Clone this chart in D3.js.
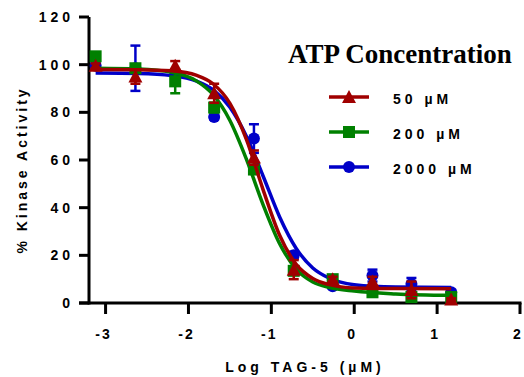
<!DOCTYPE html>
<html>
<head>
<meta charset="utf-8">
<script src="https://cdn.jsdelivr.net/npm/d3@7"></script>
<style>
  body { margin: 0; background: #fff; }
  text { font-family: Arial, "Liberation Sans", sans-serif; font-weight: bold; }
</style>
</head>
<body>
<div id="chart"></div>
<script>
// log concentration of TAG-5 (uM)
const logConc = [-3.12, -2.64, -2.16, -1.69, -1.21, -0.73, -0.26, 0.22, 0.69, 1.17]

const atp50 = [99.5, 95, 99.5, 88, 61, 14, 10, 9, 5.5, 1.5]
const atp50Err = [1, 3, 2, 4, 3, 4, 1, 2, 3.5, 0.5]
const atp200 = [103.5, 98.5, 93, 82, 56, 13.5, 10, 4.5, 2.5, 2.5]
const atp200Err = [1, 1, 5, 2, 1, 1, 1, 1, 2, 1]
const atp2000 = [99.5, 98.5, 96, 78, 69, 20, 7, 11.5, 8, 4.5]
const atp2000Err = [1, 9.5, 1, 1, 6, 1.5, 1, 2.5, 2.5, 1]

// fitted curves
const curveX = [-3.12, -2.6, -2.2, -1.9, -1.7, -1.5, -1.3, -1.1, -0.9, -0.7, -0.5, -0.3, 0, 0.5, 1.17]
const fit50 = [98, 97.9, 97.4, 95.5, 91.9, 83.8, 68.6, 47.6, 28.4, 16.2, 10.3, 7.7, 6.3, 6.05, 6]
const fit200 = [98.5, 98.2, 96.8, 93.1, 87.3, 76.6, 60.3, 41.3, 24.9, 14.2, 8.8, 6.5, 5, 3.8, 3.2]
const fit2000 = [96.5, 96.3, 95.4, 93.1, 89.4, 82.1, 69.9, 53.3, 36.1, 22.9, 14.7, 10.4, 7.7, 6.7, 6.5]

const yTicks = [0, 20, 40, 60, 80, 100, 120]
const xTicks = [-3, -2, -1, 0, 1, 2]

const series = [
  {name: "2000 \u00b5M", color: "#0000c8", shape: "circle", y: atp2000, err: atp2000Err, fit: fit2000},
  {name: "200 \u00b5M", color: "#008000", shape: "square", y: atp200, err: atp200Err, fit: fit200},
  {name: "50 \u00b5M", color: "#a00000", shape: "triangle", y: atp50, err: atp50Err, fit: fit50}
]

width = 524
height = 377

svg = d3.select("#chart").append("svg")
  .attr("width", width)
  .attr("height", height)

x = d3.scaleLinear().domain([-3.2, 2]).range([89, 520])
y = d3.scaleLinear().domain([0, 120]).range([303, 17])

// axes
svg.append("line").attr("x1", 89).attr("x2", 89).attr("y1", y(120)).attr("y2", y(0) + 1.5)
  .attr("stroke", "#000").attr("stroke-width", 3)
svg.append("line").attr("x1", 79).attr("x2", x(2) + 1.5).attr("y1", y(0)).attr("y2", y(0))
  .attr("stroke", "#000").attr("stroke-width", 3)

svg.append("g").selectAll("line").data(yTicks).enter().append("line")
  .attr("x1", 79).attr("x2", 89).attr("y1", d => y(d)).attr("y2", d => y(d))
  .attr("stroke", "#000").attr("stroke-width", 3)
svg.append("g").selectAll("text").data(yTicks).enter().append("text")
  .attr("x", 74).attr("y", d => y(d) + 5)
  .attr("text-anchor", "end")
  .style("font-size", "14px").style("letter-spacing", "4px")
  .text(d => d)

svg.append("g").selectAll("line").data(xTicks).enter().append("line")
  .attr("x1", d => x(d)).attr("x2", d => x(d)).attr("y1", y(0)).attr("y2", y(0) + 11)
  .attr("stroke", "#000").attr("stroke-width", 3)
svg.append("g").selectAll("text").data(xTicks).enter().append("text")
  .attr("x", d => x(d) - 2).attr("y", 339)
  .attr("text-anchor", "middle")
  .style("font-size", "14px").style("letter-spacing", "2px")
  .text(d => d)

// axis titles
svg.append("text")
  .attr("transform", "translate(27,170) rotate(-90)")
  .attr("text-anchor", "middle")
  .style("font-size", "14px").style("letter-spacing", "3px")
  .text("% Kinase Activity")

svg.append("text")
  .attr("x", 305).attr("y", 372)
  .attr("text-anchor", "middle")
  .style("font-size", "14px").style("letter-spacing", "4px")
  .text("Log TAG-5 (\u00b5M)")

function marker(g, shape, color, cx, cy) {
  if (shape == "circle") {
    g.append("circle").attr("cx", cx).attr("cy", cy).attr("r", 6).attr("fill", color)
  } else if (shape == "square") {
    g.append("rect").attr("x", cx - 6).attr("y", cy - 6).attr("width", 12).attr("height", 12).attr("fill", color)
  } else {
    g.append("path").attr("d", `M${cx - 7},${cy + 6}L${cx + 7},${cy + 6}L${cx},${cy - 7}Z`).attr("fill", color)
  }
}

line = d3.line().x(d => x(d[0])).y(d => y(d[1])).curve(d3.curveMonotoneX)

series.forEach(s => {
  const g = svg.append("g")
  g.append("path")
    .datum(curveX.map((v, i) => [v, s.fit[i]]))
    .attr("fill", "none")
    .attr("stroke", s.color)
    .attr("stroke-width", 3.5)
    .attr("d", line)

  logConc.forEach((c, i) => {
    const cx = x(c), lo = y(s.y[i] - s.err[i]), hi = y(s.y[i] + s.err[i])
    g.append("line").attr("x1", cx).attr("x2", cx).attr("y1", lo).attr("y2", hi)
      .attr("stroke", s.color).attr("stroke-width", 2.5)
    g.append("line").attr("x1", cx - 5).attr("x2", cx + 5).attr("y1", lo).attr("y2", lo)
      .attr("stroke", s.color).attr("stroke-width", 2.5)
    g.append("line").attr("x1", cx - 5).attr("x2", cx + 5).attr("y1", hi).attr("y2", hi)
      .attr("stroke", s.color).attr("stroke-width", 2.5)
    marker(g, s.shape, s.color, cx, y(s.y[i]))
  })
})

// legend
svg.append("text")
  .attr("x", 288).attr("y", 63)
  .style("font-family", "'Liberation Serif', 'Times New Roman', serif")
  .style("font-size", "27px")
  .text("ATP Concentration")

const legendRows = [series[2], series[1], series[0]]
legendRows.forEach((s, i) => {
  const ly = 97 + i * 35
  const lg = svg.append("g")
  lg.append("line").attr("x1", 329).attr("x2", 369).attr("y1", ly).attr("y2", ly)
    .attr("stroke", s.color).attr("stroke-width", 3.5)
  marker(lg, s.shape, s.color, 349, ly)
  lg.append("text").attr("x", 393).attr("y", ly + 7)
    .style("font-size", "14px").style("letter-spacing", "4px")
    .text(s.name)
})
</script>
</body>
</html>
